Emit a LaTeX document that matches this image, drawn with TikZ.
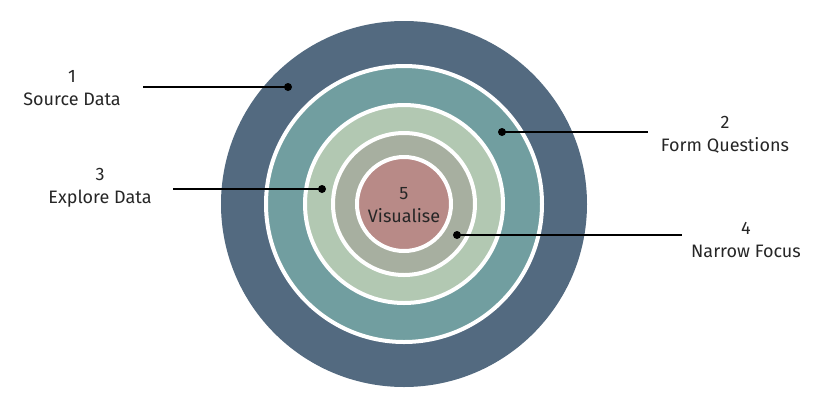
\documentclass[tikz,border=0pt]{standalone}
\usepackage{fontspec}
\setmainfont{Fira Sans}
\definecolor{ringA}{HTML}{536A80}
\definecolor{ringB}{HTML}{719EA0}
\definecolor{ringC}{HTML}{B2C8B2}
\definecolor{ringD}{HTML}{A7AFA0}
\definecolor{ringE}{HTML}{B88A87}
\begin{document}
\begin{tikzpicture}[x=0.75pt, y=-0.75pt,
			ring/.style={draw=white, line width=3pt},
			dot/.style={circle, fill=black, inner sep=0pt, minimum size=6pt},
			lbl/.style={align=center, font=\fontsize{13.5}{17}\selectfont, text=black!85}]
			\useasboundingbox (0,0) rectangle (832,408);
			\fill[ringA] (404,204) circle (183);
			\filldraw[ring, fill=ringB] (404,204) circle (138);
			\filldraw[ring, fill=ringC] (404,204) circle (99);
			\filldraw[ring, fill=ringD] (404,204) circle (71);
			\filldraw[ring, fill=ringE] (404,204) circle (47);
			\node[lbl] (c5) at (404,205) {5\\Visualise};
			
			\node[dot] (d1) at (288,87) {};
			\node[dot] (d2) at (502,132) {};
			\node[dot] (d3) at (322,189) {};
			\node[dot] (d4) at (457,235) {};
			\coordinate (e1) at (143,87);
			\coordinate (e2) at (648,132);
			\coordinate (e3) at (173,189);
			\coordinate (e4) at (682,235);
			\node[lbl] (t1) at (72,88) {1\\Source Data};
			\node[lbl] (t2) at (725,135) {2\\Form Questions};
			\node[lbl] (t3) at (100,188) {3\\Explore Data};
			\node[lbl] (t4) at (746,240) {4\\Narrow Focus};
			
			\draw[line width=1pt] (e1) -- (d1.center);
			\draw[line width=1pt] (d2.center) -- (e2);
			\draw[line width=1pt] (e3) -- (d3.center);
			\draw[line width=1pt] (d4.center) -- (e4);
\end{tikzpicture}
\end{document}
